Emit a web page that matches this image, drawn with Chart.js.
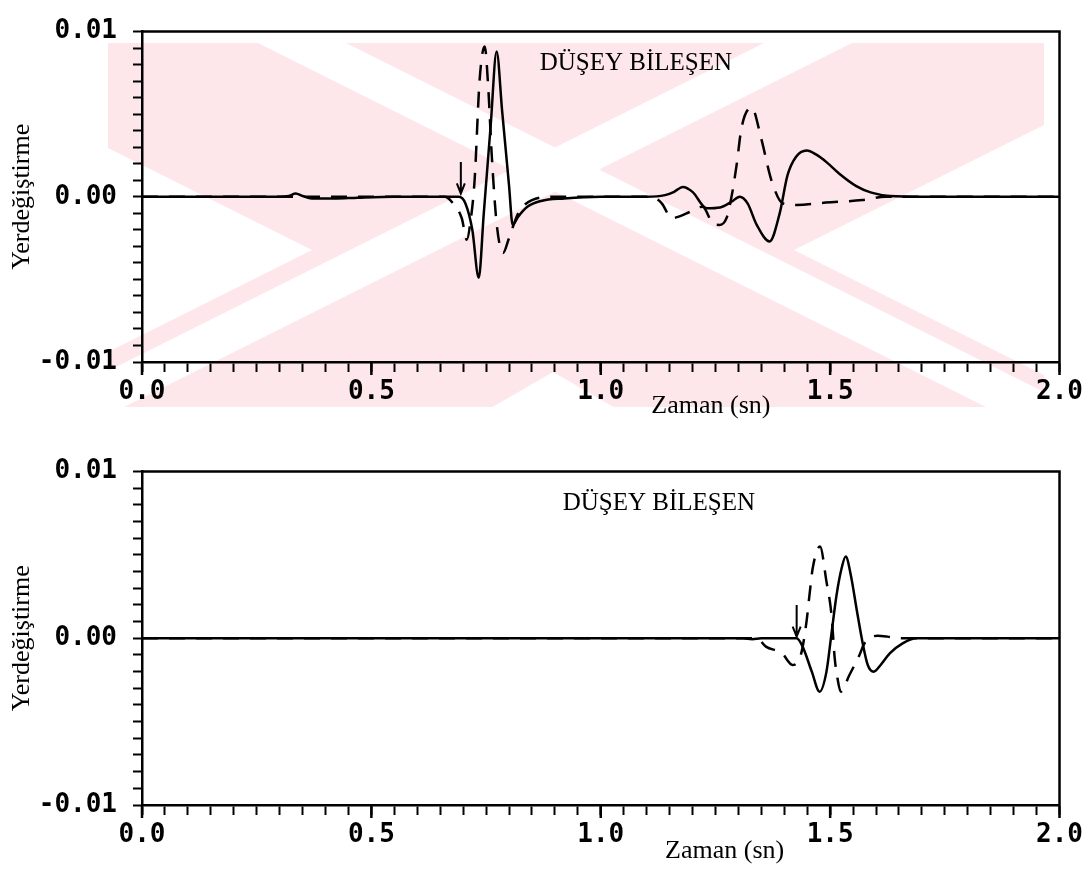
<!DOCTYPE html>
<html>
<head>
<meta charset="utf-8">
<script src="https://cdn.jsdelivr.net/npm/chart.js@4"></script>
<style>
  html, body { margin: 0; padding: 0; background: #fff; }
  #wrap { position: relative; width: 1088px; height: 873px; }
  .panel { position: absolute; left: 0; width: 1088px; }
  #top { top: 0; height: 440px; }
  #bottom { top: 440px; height: 433px; }
</style>
</head>
<body>
<div id="wrap">
  <div class="panel" id="top"><canvas id="chartTop"></canvas></div>
  <div class="panel" id="bottom"><canvas id="chartBottom"></canvas></div>
</div>
<script>
// upper panel, time (sn) and displacement
const topSolidT = [0, 0.30, 0.32, 0.335, 0.35, 0.37, 0.42, 0.47, 0.55, 0.66, 0.69, 0.705, 0.72, 0.734, 0.745, 0.76, 0.773, 0.785, 0.80, 0.808, 0.82, 0.84, 0.87, 0.92, 1.0, 1.1, 1.14, 1.16, 1.179, 1.2, 1.231, 1.26, 1.285, 1.303, 1.32, 1.34, 1.368, 1.39, 1.407, 1.425, 1.449, 1.47, 1.492, 1.52, 1.557, 1.59, 1.63, 1.7, 2.0];
const topSolidV = [0, 0, 0.00005, 0.0002, 0.00005, -0.0001, -0.0001, -0.00005, 0, 0, 0, -0.0004, -0.002, -0.0049, -0.001, 0.0043, 0.0088, 0.0052, 0.0007, -0.0017, -0.0012, -0.0006, -0.00025, -0.0001, 0, 0, 0.0001, 0.0003, 0.0006, 0.0003, -0.0007, -0.00065, -0.0003, 0, -0.0004, -0.0017, -0.0027, -0.001, 0.0013, 0.0024, 0.0028, 0.00255, 0.0021, 0.0014, 0.00065, 0.00025, 0.00005, 0, 0];
const topDashT = [0, 0.66, 0.675, 0.697, 0.708, 0.716, 0.725, 0.736, 0.747, 0.755, 0.762, 0.773, 0.787, 0.80, 0.82, 0.85, 0.9, 1.1, 1.12, 1.133, 1.155, 1.17, 1.187, 1.222, 1.244, 1.258, 1.274, 1.285, 1.296, 1.307, 1.329, 1.35, 1.372, 1.397, 1.427, 1.49, 1.57, 1.62, 2.0];
const topDashV = [0, 0, -0.0003, -0.0013, -0.0026, -0.0015, 0.001, 0.0071, 0.0091, 0.0065, 0.0027, -0.0016, -0.0034, -0.0025, -0.001, -0.0002, 0, 0, -0.0001, -0.0004, -0.0013, -0.0012, -0.001, -0.0006, -0.0016, -0.0017, -0.0013, 0, 0.0019, 0.0042, 0.0054, 0.0035, 0.001, -0.0004, -0.0005, -0.00035, -0.0002, 0, 0];

// lower panel
const botSolidT = [0, 1.31, 1.33, 1.35, 1.40, 1.427, 1.44, 1.46, 1.477, 1.492, 1.503, 1.514, 1.525, 1.534, 1.545, 1.558, 1.571, 1.582, 1.595, 1.61, 1.63, 1.658, 1.688, 2.0];
const botSolidV = [0, 0, -0.00005, 0, 0, 0, -0.0005, -0.002, -0.0032, -0.002, 0.0003, 0.0026, 0.0042, 0.0049, 0.0038, 0.0017, -0.0003, -0.0016, -0.002, -0.0016, -0.0009, -0.0003, 0, 0];
const botDashT = [0, 1.34, 1.36, 1.395, 1.418, 1.437, 1.448, 1.455, 1.462, 1.478, 1.492, 1.503, 1.51, 1.516, 1.523, 1.542, 1.564, 1.575, 1.603, 1.625, 1.65, 2.0];
const botDashV = [0, 0, -0.0005, -0.0009, -0.0016, -0.0009, 0.0009, 0.0026, 0.0042, 0.0055, 0.0034, 0.0014, -0.0012, -0.0024, -0.0032, -0.0022, -0.001, -0.0003, 0.00015, 0.0001, 0, 0];

// tick labels
const xMajor = [0, 0.5, 1.0, 1.5, 2.0];
const xTickLabels = ['0.0', '0.5', '1.0', '1.5', '2.0'];
const yMajor = [-0.01, 0, 0.01];
const yTickLabels = ['-0.01', '0.00', '0.01'];

const pts = (t, v) => t.map((x, i) => ({x: x, y: v[i]}));
const near = (a, b) => Math.abs(a - b) < 1e-9;
const tickFont = {family: '"DejaVu Sans Mono"', size: 26, weight: 'bold'};
const serif = '"Liberation Serif", "Times New Roman", serif';

// faint pink emblem left by the scan, behind the upper panel only
const watermark = {
  id: 'watermark',
  beforeDraw(chart, args, o) {
    if (!o.show) return;
    const ctx = chart.ctx;
    const L = 108, T = 43, R = 1044, B = 407;
    ctx.save();
    ctx.beginPath();
    ctx.rect(L, T, R - L, B - T);
    ctx.clip();
    ctx.fillStyle = '#fde7eb';
    ctx.fillRect(L, T, R - L, B - T);
    ctx.fillStyle = '#fff';
    const poly = p => {
      ctx.beginPath();
      ctx.moveTo(p[0][0], p[0][1]);
      p.slice(1).forEach(q => ctx.lineTo(q[0], q[1]));
      ctx.closePath();
      ctx.fill();
    };
    // side wedges
    poly([[0, 94], [312, 250], [0, 406]]);
    poly([[1088, 103], [794, 250], [1088, 397]]);
    // bottom notch
    poly([[470, 420], [553, 372], [636, 420]]);
    // crossing white stripes
    const stripe = (x0, y0, s, h) => {
      poly([[0, y0 + s * (0 - x0) - h], [1088, y0 + s * (1088 - x0) - h],
            [1088, y0 + s * (1088 - x0) + h], [0, y0 + s * (0 - x0) + h]]);
    };
    stripe(302, 43, 0.5, 22);
    stripe(808, 43, -0.5, 22);
    ctx.restore();
  }
};

// frame top/right, arrow, panel label, time title
const deco = {
  id: 'deco',
  afterDraw(chart, args, o) {
    const {ctx, chartArea: a} = chart;
    const x = chart.scales.x, y = chart.scales.y;
    ctx.save();
    ctx.strokeStyle = '#000';
    ctx.lineWidth = 2.5;
    ctx.beginPath();
    ctx.moveTo(a.left, a.top);
    ctx.lineTo(a.right, a.top);
    ctx.lineTo(a.right, a.bottom);
    ctx.stroke();

    // longer marks on the major time ticks
    ctx.beginPath();
    xMajor.forEach(m => {
      const px = x.getPixelForValue(m);
      ctx.moveTo(px, a.bottom);
      ctx.lineTo(px, a.bottom + 13);
    });
    ctx.stroke();

    const ax = x.getPixelForValue(o.arrow[0]);
    const y0 = y.getPixelForValue(o.arrow[1]);
    const y1 = y.getPixelForValue(o.arrow[2]);
    ctx.lineWidth = 2;
    ctx.beginPath();
    ctx.moveTo(ax, y0);
    ctx.lineTo(ax, y1);
    ctx.moveTo(ax - 4, y1 - 10);
    ctx.lineTo(ax, y1);
    ctx.lineTo(ax + 4, y1 - 10);
    ctx.stroke();

    ctx.fillStyle = '#000';
    ctx.textBaseline = 'alphabetic';
    ctx.font = '25px ' + serif;
    ctx.textAlign = 'left';
    ctx.fillText('DÜŞEY BİLEŞEN', x.getPixelForValue(o.label[0]), y.getPixelForValue(o.label[1]));
    ctx.font = '26px ' + serif;
    ctx.textAlign = 'center';
    ctx.fillText('Zaman (sn)', x.getPixelForValue(o.xTitle[0]), a.bottom + o.xTitle[1]);
    ctx.restore();
  }
};

function makeChart(id, solid, dashed, pad, decoOpts, showMark) {
  return new Chart(document.getElementById(id), {
    type: 'line',
    data: {
      datasets: [
        {data: dashed, borderColor: '#000', borderWidth: 2.5, borderDash: [16, 11],
         pointRadius: 0, cubicInterpolationMode: 'monotone'},
        {data: solid, borderColor: '#000', borderWidth: 2.5,
         pointRadius: 0, cubicInterpolationMode: 'monotone'}
      ]
    },
    options: {
      responsive: true,
      maintainAspectRatio: false,
      animation: false,
      layout: {padding: pad},
      plugins: {
        legend: {display: false},
        tooltip: {enabled: false},
        deco: decoOpts,
        watermark: {show: showMark}
      },
      scales: {
        x: {
          type: 'linear', min: 0, max: 2,
          afterFit: s => { s.height = 40; },
          border: {display: true, color: '#000', width: 2.5},
          grid: {drawOnChartArea: false, drawTicks: true, tickLength: 10, tickColor: '#000', tickWidth: 2},
          ticks: {
            stepSize: 0.05, autoSkip: false, maxRotation: 0, padding: 5,
            color: '#000', font: tickFont,
            callback: v => {
              const i = xMajor.findIndex(m => near(m, v));
              return i < 0 ? '' : xTickLabels[i];
            }
          }
        },
        y: {
          min: -0.01, max: 0.01,
          afterFit: s => { s.width = 142; },
          border: {display: true, color: '#000', width: 2.5},
          grid: {drawOnChartArea: false, drawTicks: true, tickLength: 9, tickColor: '#000', tickWidth: 2},
          title: {display: true, text: 'Yerdeğiştirme', color: '#000',
                  font: {family: serif, size: 26}, padding: {top: 7, bottom: 0}},
          ticks: {
            stepSize: 0.001, autoSkip: false, padding: 16,
            color: '#000', font: tickFont,
            callback: v => {
              const i = yMajor.findIndex(m => near(m, v));
              return i < 0 ? '' : yTickLabels[i];
            }
          }
        }
      }
    },
    plugins: [watermark, deco]
  });
}

makeChart('chartTop', pts(topSolidT, topSolidV), pts(topDashT, topDashV),
  {top: 17, right: 28, bottom: 38, left: 0},
  {arrow: [0.695, 0.0021, 0.0002], label: [0.867, 0.0077], xTitle: [1.24, 51]}, true);

makeChart('chartBottom', pts(botSolidT, botSolidV), pts(botDashT, botDashV),
  {top: 20, right: 28, bottom: 28, left: 0},
  {arrow: [1.427, 0.002, 0.0001], label: [0.917, 0.0077], xTitle: [1.27, 53]}, false);
</script>
</body>
</html>
